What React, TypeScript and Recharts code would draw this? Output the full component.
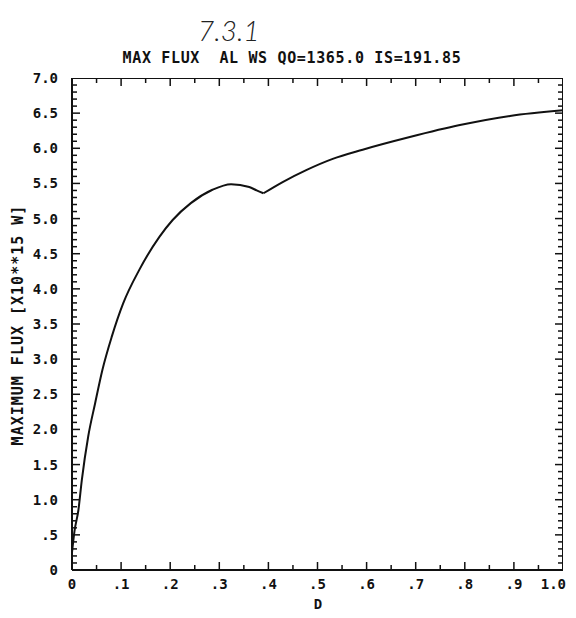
import React from 'react';
import { LineChart, Line, XAxis, YAxis } from 'recharts';

// Rising branch (D, maximum flux) up to the cusp
const dRise = [0, 0.005, 0.013, 0.02, 0.033, 0.047, 0.062, 0.081, 0.104, 0.137, 0.178, 0.205, 0.242, 0.286, 0.324, 0.361, 0.376, 0.39];
const fluxRise = [0.25, 0.55, 0.85, 1.28, 1.9, 2.37, 2.85, 3.32, 3.79, 4.27, 4.74, 4.98, 5.22, 5.41, 5.49, 5.45, 5.4, 5.36];
// Branch after the cusp
const dGrow = [0.39, 0.429, 0.477, 0.531, 0.592, 0.688, 0.79, 0.892, 1.0];
const fluxGrow = [5.36, 5.52, 5.69, 5.85, 5.98, 6.16, 6.33, 6.46, 6.54];

const xMajorTicks = [0, 0.1, 0.2, 0.3, 0.4, 0.5, 0.6, 0.7, 0.8, 0.9, 1.0];
const xMajorLabels = ['0', '.1', '.2', '.3', '.4', '.5', '.6', '.7', '.8', '.9', '1.0'];
const yMajorTicks = [0, 0.5, 1, 1.5, 2, 2.5, 3, 3.5, 4, 4.5, 5, 5.5, 6, 6.5, 7];
const yMajorLabels = ['0', '.5', '1.0', '1.5', '2.0', '2.5', '3.0', '3.5', '4.0', '4.5', '5.0', '5.5', '6.0', '6.5', '7.0'];

const TITLE = 'MAX FLUX  AL WS QO=1365.0 IS=191.85';
const Y_LABEL = 'MAXIMUM FLUX [X10**15 W]';
const X_LABEL = 'D';
const NOTE = '7.3.1';

const riseData = dRise.map((d, i) => ({ d, flux: fluxRise[i] }));
const growData = dGrow.map((d, i) => ({ d, flux: fluxGrow[i] }));

// minor tick positions (every 0.05 on D, every 0.1 on flux)
const xTicks: number[] = [];
for (let i = 0; i <= 20; i++) xTicks.push(Math.round(i * 5) / 100);
const yTicks: number[] = [];
for (let i = 0; i <= 70; i++) yTicks.push(i / 10);

const FONT = '"DejaVu Sans Mono", monospace';
const INK = '#111';
const W = 568;
const H = 602;
const MARGIN = { top: 70, right: 13, bottom: 10, left: 24 };
const X_AXIS_H = 30;
const Y_AXIS_W = 40;
const PLOT_W = W - MARGIN.left - MARGIN.right - Y_AXIS_W;
const PLOT_H = H - MARGIN.top - MARGIN.bottom - X_AXIS_H;
const X_MAX = 1;
const Y_MAX = 7;
// tick lengths in pixels converted to data units
const xLen = (px: number) => (px / PLOT_W) * X_MAX;
const yLen = (px: number) => (px / PLOT_H) * Y_MAX;

const isMajorX = (v: number) => xMajorTicks.some((t) => Math.abs(t - v) < 1e-6);
const isMajorY = (v: number) => yMajorTicks.some((t) => Math.abs(t - v) < 1e-6);

// frame (top and right edges) and inward tick marks as short segments in data space
type Seg = { key: string; data: { d: number; flux: number }[]; w: number };
const segments: Seg[] = [];
segments.push({ key: 'ftop', data: [{ d: 0, flux: Y_MAX }, { d: X_MAX, flux: Y_MAX }], w: 2 });
segments.push({ key: 'fright', data: [{ d: X_MAX, flux: 0 }, { d: X_MAX, flux: Y_MAX }], w: 2 });
xTicks.forEach((v) => {
  const l = yLen(isMajorX(v) ? 8 : 5);
  segments.push({ key: `xb${v}`, data: [{ d: v, flux: 0 }, { d: v, flux: l }], w: 1.5 });
  segments.push({ key: `xt${v}`, data: [{ d: v, flux: Y_MAX }, { d: v, flux: Y_MAX - l }], w: 1.5 });
});
yTicks.forEach((v) => {
  const l = xLen(isMajorY(v) ? 8 : 5);
  segments.push({ key: `yl${v}`, data: [{ d: 0, flux: v }, { d: l, flux: v }], w: 1.5 });
  segments.push({ key: `yr${v}`, data: [{ d: X_MAX - l, flux: v }, { d: X_MAX, flux: v }], w: 1.5 });
});

const xLabel = (v: number) => {
  const idx = xMajorTicks.findIndex((t) => Math.abs(t - v) < 1e-6);
  return idx >= 0 ? xMajorLabels[idx] : null;
};
const yLabel = (v: number) => {
  const idx = yMajorTicks.findIndex((t) => Math.abs(t - v) < 1e-6);
  return idx >= 0 ? yMajorLabels[idx] : null;
};

const BottomTick = (p: any) => {
  const lab = xLabel(p.payload.value);
  if (!lab) return <g />;
  const last = Math.abs(p.payload.value - X_MAX) < 1e-6;
  return (
    <text
      x={Number(p.x) + (last ? 3 : 0)}
      y={Number(p.y) + 15}
      textAnchor={last ? 'end' : 'middle'}
      fontFamily={FONT}
      fontWeight="bold"
      fontSize={14}
      fill={INK}
    >
      {lab}
    </text>
  );
};

const LeftTick = (p: any) => {
  const lab = yLabel(p.payload.value);
  if (!lab) return <g />;
  return (
    <text x={Number(p.x) - 10} y={Number(p.y) + 5} textAnchor="end" fontFamily={FONT} fontWeight="bold" fontSize={14} fill={INK}>
      {lab}
    </text>
  );
};

const textBase: React.CSSProperties = {
  position: 'absolute',
  whiteSpace: 'pre',
  color: INK,
  pointerEvents: 'none',
};

export default function App() {
  return (
    <div style={{ position: 'relative', width: W, height: H, background: '#fff' }}>
      <LineChart width={W} height={H} margin={MARGIN}>
        <XAxis
          xAxisId="b"
          type="number"
          dataKey="d"
          domain={[0, X_MAX]}
          ticks={xMajorTicks}
          interval={0}
          tickSize={0}
          tickMargin={4}
          height={X_AXIS_H}
          axisLine={{ stroke: INK, strokeWidth: 2 }}
          tickLine={false}
          tick={(p: any) => <BottomTick {...p} />}
          allowDataOverflow
        />
        <YAxis
          yAxisId="l"
          type="number"
          domain={[0, Y_MAX]}
          ticks={yMajorTicks}
          interval={0}
          tickSize={0}
          tickMargin={4}
          width={Y_AXIS_W}
          axisLine={{ stroke: INK, strokeWidth: 2 }}
          tickLine={false}
          tick={(p: any) => <LeftTick {...p} />}
          allowDataOverflow
        />
        {segments.map((s) => (
          <Line
            key={s.key}
            xAxisId="b"
            yAxisId="l"
            data={s.data}
            dataKey="flux"
            type="linear"
            stroke={INK}
            strokeWidth={s.w}
            dot={false}
            activeDot={false}
            legendType="none"
            isAnimationActive={false}
          />
        ))}
        <Line
          xAxisId="b"
          yAxisId="l"
          data={riseData}
          dataKey="flux"
          type="monotone"
          stroke={INK}
          strokeWidth={2}
          dot={false}
          isAnimationActive={false}
        />
        <Line
          xAxisId="b"
          yAxisId="l"
          data={growData}
          dataKey="flux"
          type="monotone"
          stroke={INK}
          strokeWidth={2}
          dot={false}
          isAnimationActive={false}
        />
      </LineChart>
      <div
        style={{
          ...textBase,
          left: 190,
          top: 8,
          fontFamily: 'Lato, sans-serif',
          fontStyle: 'italic',
          fontWeight: 300,
          fontSize: 28,
          lineHeight: '28px',
          color: '#222',
        }}
      >
        {NOTE}
      </div>
      <div
        style={{
          ...textBase,
          left: 0,
          width: W,
          top: 43,
          textAlign: 'center',
          fontFamily: FONT,
          fontWeight: 'bold',
          fontSize: 15,
          lineHeight: '15px',
          letterSpacing: 0.65,
        }}
      >
        {TITLE}
      </div>
      <div
        style={{
          ...textBase,
          left: 10 - 150,
          top: 317 - 8,
          width: 300,
          height: 16,
          textAlign: 'center',
          fontFamily: FONT,
          fontWeight: 'bold',
          fontSize: 15,
          lineHeight: '16px',
          letterSpacing: 1.0,
          transform: 'rotate(-90deg)',
          transformOrigin: '150px 8px',
        }}
      >
        {Y_LABEL}
      </div>
      <div
        style={{
          ...textBase,
          left: 290,
          width: 40,
          top: 589,
          textAlign: 'center',
          fontFamily: FONT,
          fontWeight: 'bold',
          fontSize: 14,
          lineHeight: '14px',
        }}
      >
        {X_LABEL}
      </div>
    </div>
  );
}
